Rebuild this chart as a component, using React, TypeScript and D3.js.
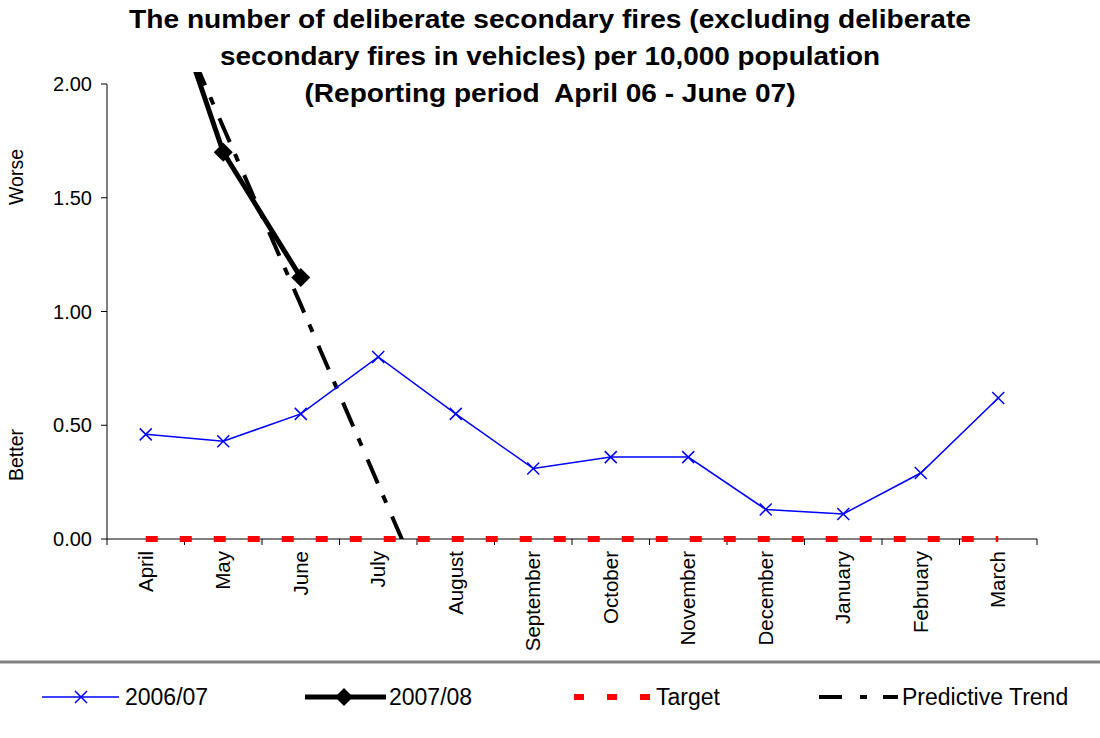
import React from "react";
import * as d3 from "d3";

const months = ["April","May","June","July","August","September","October","November","December","January","February","March"];
const series0607 = [0.46,0.43,0.55,0.80,0.55,0.31,0.36,0.36,0.13,0.11,0.29,0.62];
const series0708 = [2.70,1.70,1.15];
const targetValues = [0,0,0,0,0,0,0,0,0,0,0,0];
const trendValues = [2.60,1.81,1.03,0.24,-0.55];
const yTicks = [0,0.5,1,1.5,2];
const titleLines = [
  "The number of deliberate secondary fires (excluding deliberate",
  "secondary fires in vehicles) per 10,000 population",
  "(Reporting period  April 06 - June 07)"
];
const titleWidths = [842, 660, 491];

const W = 1100, H = 738;
const left = 107, right = 1037, top = 84, bottom = 539;

export default function App() {
  const x = d3.scaleBand<string>().domain(months).range([left, right]).padding(0);
  const cx = (i: number) => (x(months[i]) as number) + x.bandwidth() / 2;
  const y = d3.scaleLinear().domain([0, 2]).range([bottom, top]);

  const line = d3.line<number>().x((_, i) => cx(i)).y((d) => y(d));
  const font = "Liberation Sans, Arial, sans-serif";

  const xMark = (px: number, py: number, s: number, key: string) => (
    <path key={key} d={`M${px - s},${py - s}L${px + s},${py + s}M${px - s},${py + s}L${px + s},${py - s}`} stroke="#0000FF" strokeWidth={1.5} fill="none" />
  );
  const diamond = (px: number, py: number, s: number, key: string) => (
    <path key={key} d={`M${px},${py - s}L${px + s},${py}L${px},${py + s}L${px - s},${py}Z`} fill="#000" />
  );

  const bounds = months.map((m) => x(m) as number).concat([right]);

  return (
    <svg width={W} height={H} style={{ position: "absolute", left: 0, top: 0, background: "#fff" }} fontFamily={font}>
      <defs>
        <clipPath id="plotclip">
          <rect x={left} y={72} width={right - left} height={bottom - 72} />
        </clipPath>
      </defs>
      {titleLines.map((t, i) => (
        <text key={t} x={550 - titleWidths[i] / 2} y={28 + i * 37} textLength={titleWidths[i]} lengthAdjust="spacingAndGlyphs" fontWeight="bold" fontSize={26.5} fill="#000" style={{ whiteSpace: "pre" }}>{t}</text>
      ))}

      {/* axes */}
      <line x1={left} x2={left} y1={top} y2={bottom} stroke="#000" strokeWidth={1} />
      <line x1={left} x2={right} y1={bottom} y2={bottom} stroke="#000" strokeWidth={1} />
      {yTicks.map((t) => (
        <g key={t}>
          <line x1={left - 6} x2={left} y1={y(t)} y2={y(t)} stroke="#000" />
          <text x={left - 15} y={y(t)} dy="0.35em" textAnchor="end" fontSize={20}>{t.toFixed(2)}</text>
        </g>
      ))}
      {bounds.map((b, i) => (
        <line key={i} x1={b} x2={b} y1={bottom} y2={bottom + 6} stroke="#000" />
      ))}
      {months.map((m, i) => (
        <text key={m} transform={`translate(${cx(i)},${bottom + 12}) rotate(-90)`} dy="0.35em" textAnchor="end" fontSize={20.5}>{m}</text>
      ))}
      <text transform={`translate(23,177) rotate(-90)`} textAnchor="middle" fontSize={19.5}>Worse</text>
      <text transform={`translate(23,455) rotate(-90)`} textAnchor="middle" fontSize={19.5}>Better</text>

      {/* series */}
      <path d={line(targetValues) as string} stroke="#FF0000" strokeWidth={6} strokeDasharray="12,22" fill="none" />
      <g clipPath="url(#plotclip)">
        <path d={line(trendValues) as string} stroke="#000" strokeWidth={4} strokeDasharray="26,13,8,15" fill="none" />
        <path d={line(series0708) as string} stroke="#000" strokeWidth={5} fill="none" />
        {series0708.map((v, i) => i > 0 ? diamond(cx(i), y(v), 9.5, "d" + i) : null)}
      </g>
      <path d={line(series0607) as string} stroke="#0000FF" strokeWidth={1.5} fill="none" />
      {series0607.map((v, i) => xMark(cx(i), y(v), 6, "x" + i))}

      {/* legend */}
      <line x1={0} x2={W} y1={662} y2={662} stroke="#808080" strokeWidth={3} />
      <line x1={42} x2={119} y1={697} y2={697} stroke="#0000FF" strokeWidth={1.5} />
      {xMark(81, 697, 6, "lx")}
      <text x={125} y={697} dy="0.35em" fontSize={23}>2006/07</text>
      <line x1={305} x2={386} y1={697} y2={697} stroke="#000" strokeWidth={5} />
      {diamond(344, 697, 9, "ld")}
      <text x={389} y={697} dy="0.35em" fontSize={23}>2007/08</text>
      <line x1={574} x2={651} y1={697} y2={697} stroke="#FF0000" strokeWidth={6} strokeDasharray="10,23" />
      <text x={656} y={697} dy="0.35em" fontSize={23}>Target</text>
      <line x1={819} x2={898} y1={697} y2={697} stroke="#000" strokeWidth={4} strokeDasharray="23,18,7,16" />
      <text x={902} y={697} dy="0.35em" fontSize={23}>Predictive Trend</text>
    </svg>
  );
}
